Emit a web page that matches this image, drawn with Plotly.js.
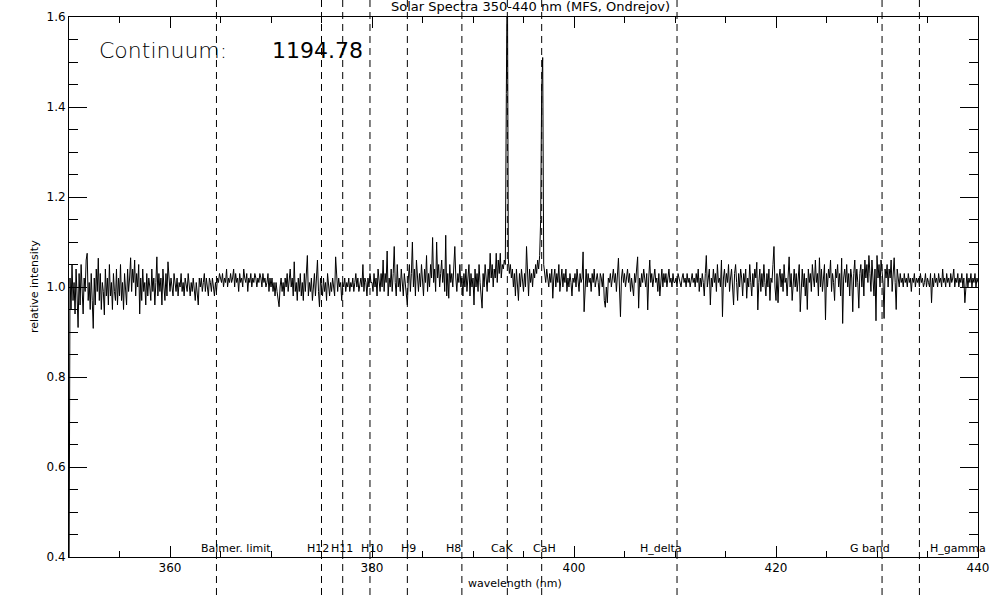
<!DOCTYPE html>
<html>
<head>
<meta charset="utf-8">
<script src="https://cdn.plot.ly/plotly-3.0.1.min.js"></script>
<style>html,body{margin:0;padding:0;background:#fff;}#chart{width:992px;height:595px;}</style>
</head>
<body>
<div id="chart"></div>
<script>
const waveStart = 350.0;
const waveStep = 0.1;
const seg350 = [
0.30,1.02,0.95,1.05,0.97,1.01,0.94,1.04,0.98,0.91,
1.03,0.96,1.05,0.98,0.94,1.02,0.99,1.06,1.075,0.97,
1.01,0.95,1.03,0.97,0.908,1.02,0.96,1.04,0.99,1.064,
0.97,1.03,0.95,1.01,0.99,0.938,1.04,0.98,1.02,0.96,
1.05,0.98,1.01,0.95,1.03,0.99,0.97,1.04,0.96,1.02,
0.98,1.05,0.97,1.01,0.95,1.03,1.00,0.96,1.04,0.99,
1.02,1.065,0.99,1.04,1.01,1.06,0.98,1.03,1.00,1.05,
0.94,1.02,0.97,1.04,0.99,1.01,0.96,1.03,0.98,1.02,
1.00,0.97,1.04,0.99,1.02,0.96,1.01,1.067,0.98,1.03,
0.99,1.02,0.96,1.04,1.00,0.97,1.03,0.98,1.056,1.01];
const seg360 = [
0.99,1.02,1.00,0.98,1.03,1.01,0.99,1.02,0.98,1.01,
1.00,1.03,0.99,1.01,0.98,1.02,1.00,0.99,1.03,1.01,
0.98,1.01,0.99,1.02,1.00,0.97,1.01,0.99,0.96,1.02,
1.00,1.02,0.99,1.01,1.03,0.99,1.02,1.00,0.98,1.02,
1.01,0.99,1.02,1.00,0.98,1.01,0.99,1.02,1.01,1.03,
1.02,1.01,1.03,1.00,1.02,1.01,1.04,1.00,1.02,1.01,
1.03,1.01,1.02,1.04,1.00,1.03,1.01,1.02,0.99,1.03,
1.01,1.02,1.00,1.04,1.02,1.01,1.03,0.99,1.02,1.01,
1.03,1.00,1.02,1.01,1.03,1.02,1.00,1.02,1.01,1.03,
1.02,1.00,1.03,1.01,1.02,1.00,1.01,1.03,0.99,1.02];
const seg370 = [
1.00,1.02,0.99,1.01,0.98,1.01,0.99,0.97,0.956,1.00,
1.02,0.99,1.01,0.98,1.02,1.00,1.03,0.99,1.01,1.04,
1.00,1.02,0.98,1.056,0.99,1.01,0.97,1.02,0.99,1.03,
0.98,1.01,0.97,1.03,0.99,1.02,1.07,0.98,1.01,0.99,
1.02,0.97,1.00,1.03,0.98,1.01,1.06,0.99,0.956,1.02,
1.00,0.98,1.02,0.99,1.01,0.97,1.03,1.00,0.98,1.01,
0.99,1.02,1.00,0.98,1.067,1.01,0.99,1.02,1.00,1.01,
0.97,1.01,1.00,1.02,0.99,1.01,1.00,1.02,0.99,1.01,
1.00,1.02,0.99,1.01,1.03,1.00,1.02,0.99,1.01,1.02,
1.00,1.05,0.99,1.02,1.01,0.98,1.02,1.00,1.03,1.01];
const seg380 = [
1.01,0.99,1.03,1.00,1.02,0.98,1.04,1.01,0.99,1.03,
1.00,1.06,0.99,1.03,1.01,1.08,0.98,1.02,1.00,1.04,
0.99,1.03,1.09,1.01,0.98,1.05,1.00,1.02,0.99,1.04,
1.01,0.98,1.03,1.00,0.97,0.96,1.02,1.05,0.99,1.03,
1.10,1.00,1.04,0.98,1.06,1.01,0.99,1.03,1.00,1.05,
1.02,0.98,1.04,1.01,1.07,0.99,1.03,1.00,1.05,1.02,
1.11,1.01,1.04,0.99,1.10,1.02,1.05,1.00,1.03,1.06,
1.01,1.04,0.99,1.115,0.98,1.03,0.975,1.05,1.01,1.03,
1.00,1.04,1.09,1.02,0.99,1.03,1.01,1.05,1.00,1.02,
0.98,1.03,1.00,1.04,0.99,1.02,1.05,0.98,1.03,1.00];
const seg390 = [
1.02,0.96,1.04,1.00,1.03,0.99,1.05,1.01,0.98,0.953,
1.03,1.00,1.05,1.02,0.99,1.04,1.01,1.075,1.02,1.05,
1.00,1.04,1.02,1.075,1.01,1.06,1.03,1.075,1.02,1.05,
1.04,1.06,1.05,1.43,1.75,1.06,1.03,1.05,1.02,1.04,
1.00,1.03,0.98,1.04,1.01,0.97,1.03,1.00,1.04,1.01,
0.99,1.03,1.00,1.09,1.02,0.98,1.04,1.01,1.03,1.00,
1.04,1.02,1.05,1.03,1.06,1.04,1.07,1.15,1.44,1.51,
1.05,1.03,1.01,1.04,1.02,1.00,1.03,1.01,1.04,0.975,
1.02,1.04,1.00,1.03,1.01,1.05,0.99,1.02,1.04,1.00,
1.03,1.01,1.04,0.99,1.02,1.00,1.03,1.01,0.98,1.02];
const seg400 = [
1.01,1.03,1.00,1.04,1.02,0.99,1.03,1.01,1.02,1.078,
0.945,1.02,1.04,1.00,1.03,1.01,1.02,0.99,1.03,1.01,
1.04,1.00,1.02,1.03,1.01,0.98,1.03,1.02,1.00,1.03,
0.97,0.955,1.00,0.965,1.02,1.01,1.03,1.00,1.02,1.04,
1.01,1.03,0.99,1.02,1.064,1.00,0.934,1.02,1.04,1.01,
1.03,1.00,1.02,1.04,1.01,1.03,0.99,1.02,1.00,0.98,
1.03,1.01,1.04,1.067,0.953,1.02,1.00,1.03,1.01,1.04,
1.02,1.00,1.03,0.949,1.02,1.06,1.01,1.03,1.00,1.02,
1.04,1.01,1.02,0.99,1.03,0.98,1.02,1.04,1.00,1.03,
1.01,1.03,1.00,1.02,1.04,1.01,1.02,1.00,1.03,1.01];
const seg410 = [
1.01,1.02,1.00,1.03,1.02,1.01,1.00,1.02,1.03,1.01,
1.02,1.00,1.03,1.01,1.02,1.00,1.02,1.03,1.01,1.02,
1.00,1.03,1.01,1.04,0.99,1.02,1.00,1.03,1.01,0.98,
1.03,1.07,1.00,1.02,1.04,0.96,1.02,1.00,1.04,1.01,
1.03,0.99,1.05,1.01,1.02,1.00,1.06,0.934,1.02,1.04,
1.00,1.03,1.01,1.05,0.99,1.02,1.04,1.00,0.96,1.03,
1.05,1.01,0.97,1.03,1.00,1.04,1.02,0.98,1.03,1.01,
1.04,0.975,1.02,1.00,1.05,1.01,0.98,1.03,1.00,1.04,
1.02,1.055,0.949,1.01,1.04,0.99,1.03,1.00,1.05,1.01,
0.98,1.03,1.00,1.04,0.97,1.02,1.01,1.05,1.09,1.00];
const seg420 = [
0.97,1.03,0.965,1.02,1.04,1.00,1.03,0.99,1.05,1.01,
1.02,0.98,1.04,1.067,1.00,1.03,0.97,1.02,1.04,1.00,
1.03,0.99,1.02,1.05,0.945,1.01,1.04,1.00,1.03,0.98,
1.02,0.95,1.04,1.01,1.03,0.99,1.05,1.02,1.00,1.06,
1.01,1.03,0.98,1.065,1.00,1.04,0.99,1.02,1.05,0.927,
1.03,1.00,1.04,1.02,1.06,0.99,1.03,1.01,0.97,1.04,
1.02,1.05,1.00,1.03,0.98,1.064,0.919,1.02,1.04,1.01,
1.05,1.00,1.03,0.98,1.04,1.02,0.945,1.03,1.06,1.00,
1.04,1.01,0.953,1.03,1.05,1.00,1.04,0.98,1.06,1.02,
1.05,1.01,1.07,1.03,0.99,1.06,1.02,0.98,1.04,0.925];
const seg430 = [
1.07,1.02,1.05,1.00,1.06,1.03,1.01,0.93,1.04,1.02,
1.05,1.00,1.04,1.02,1.06,0.99,1.03,1.065,1.01,0.95,
1.04,1.02,1.00,1.03,1.01,1.02,1.00,1.03,1.01,1.02,
1.00,1.03,1.01,1.02,0.99,1.02,1.01,1.03,1.00,1.02,
1.01,1.02,1.00,1.03,1.01,1.02,1.00,1.01,1.03,1.00,
1.02,1.01,1.00,1.03,0.965,1.02,1.00,1.03,1.01,1.02,
1.00,1.03,1.01,1.02,1.00,1.04,1.01,1.02,1.00,1.03,
1.01,1.02,1.00,1.03,1.01,1.02,1.04,1.00,1.02,1.01,
1.03,1.00,1.02,1.01,1.03,1.00,1.02,0.965,1.01,1.03,
1.00,1.02,1.01,1.03,1.00,1.02,1.01,1.03,1.00,1.02,
1.01];
const intensity = [].concat(seg350, seg360, seg370, seg380, seg390, seg400, seg410, seg420, seg430);

// Marked spectral lines (nm) and their labels
const lineWave = [364.6, 375.0, 377.1, 379.8, 383.5, 388.9, 393.4, 396.8, 410.2, 430.5, 434.2];
const labelText = ['Balmer. limit', 'H12', 'H11', 'H10', 'H9', 'H8', 'CaK', 'CaH', 'H_delta', 'G band', 'H_gamma'];
const labelWave = [363.0, 373.5, 375.8, 378.8, 382.8, 387.2, 391.7, 395.8, 406.4, 427.2, 435.1];

const titleText = 'Solar Spectra 350-440 nm (MFS, Ondrejov)';
const continuumLabel = 'Continuum:';
const continuumValue = '1194.78';
const xTitle = 'wavelength (nm)';
const yTitle = 'relative intensity';

const FONT = 'DejaVu Sans, Verdana, sans-serif';

const trace = {
  type: 'scatter', mode: 'lines',
  x0: waveStart, dx: waveStep, y: intensity,
  line: {color: '#000', width: 1}, hoverinfo: 'skip', showlegend: false
};

const shapes = lineWave.map(w => ({
  type: 'line', xref: 'x', yref: 'paper', x0: w, x1: w,
  y0: -38/540, y1: 1 + 17/540,
  line: {color: '#000', width: 1, dash: '7px,5px'}, layer: 'above'
}));

const annotations = labelText.map((t, i) => ({
  text: t, xref: 'x', yref: 'y', x: labelWave[i], y: 0.4,
  xanchor: 'left', yanchor: 'bottom', showarrow: false, yshift: 1, borderpad: 0,
  font: {family: FONT, size: 11, color: '#000'}
}));
annotations.push(
  {text: titleText, xref: 'paper', yref: 'paper', x: (530-69)/909, y: (557-7)/540,
   xanchor: 'center', yanchor: 'middle', showarrow: false,
   font: {family: FONT, size: 13, color: '#000'}},
  {text: continuumLabel, xref: 'paper', yref: 'paper', x: (97-69)/909, y: (557-50)/540,
   xanchor: 'left', yanchor: 'middle', showarrow: false,
   font: {family: FONT, size: 22, color: '#000', weight: 200}},
  {text: continuumValue, xref: 'paper', yref: 'paper', x: (270-69)/909, y: (557-50)/540,
   xanchor: 'left', yanchor: 'middle', showarrow: false,
   font: {family: FONT, size: 22, color: '#000'}},
  {text: xTitle, xref: 'paper', yref: 'paper', x: (515-69)/909, y: (557-583)/540,
   xanchor: 'center', yanchor: 'middle', showarrow: false,
   font: {family: FONT, size: 11, color: '#000'}},
  {text: yTitle, xref: 'paper', yref: 'paper', x: (34-69)/909, y: 0.5, textangle: -90,
   xanchor: 'center', yanchor: 'middle', showarrow: false,
   font: {family: FONT, size: 11, color: '#000'}}
);

const layout = {
  width: 992, height: 595,
  margin: {l: 69, r: 14, t: 17, b: 38, pad: 0},
  paper_bgcolor: '#fff', plot_bgcolor: '#fff',
  showlegend: false,
  font: {family: FONT, size: 12, color: '#000'},
  xaxis: {
    range: [350, 440], tick0: 360, dtick: 20, ticks: 'inside', ticklen: 11, tickwidth: 1,
    tickcolor: '#000', showline: true, linecolor: '#000', linewidth: 1, mirror: 'allticks',
    showgrid: false, zeroline: false, fixedrange: true,
    tickfont: {family: FONT, size: 12, color: '#000'},
    minor: {tick0: 350, dtick: 5, ticks: 'inside', ticklen: 6, tickcolor: '#000', tickwidth: 1, showgrid: false}
  },
  yaxis: {
    range: [0.4, 1.6], tick0: 0.4, dtick: 0.2, tickformat: '.1f', ticks: 'inside', ticklen: 18, tickwidth: 1,
    tickcolor: '#000', showline: true, linecolor: '#000', linewidth: 1, mirror: 'allticks',
    showgrid: false, zeroline: false, fixedrange: true,
    tickfont: {family: FONT, size: 12, color: '#000'},
    minor: {tick0: 0.4, dtick: 0.05, ticks: 'inside', ticklen: 9, tickcolor: '#000', tickwidth: 1, showgrid: false}
  },
  shapes: shapes,
  annotations: annotations
};

Plotly.newPlot('chart', [trace], layout, {displayModeBar: false, staticPlot: true});
</script>
</body>
</html>
